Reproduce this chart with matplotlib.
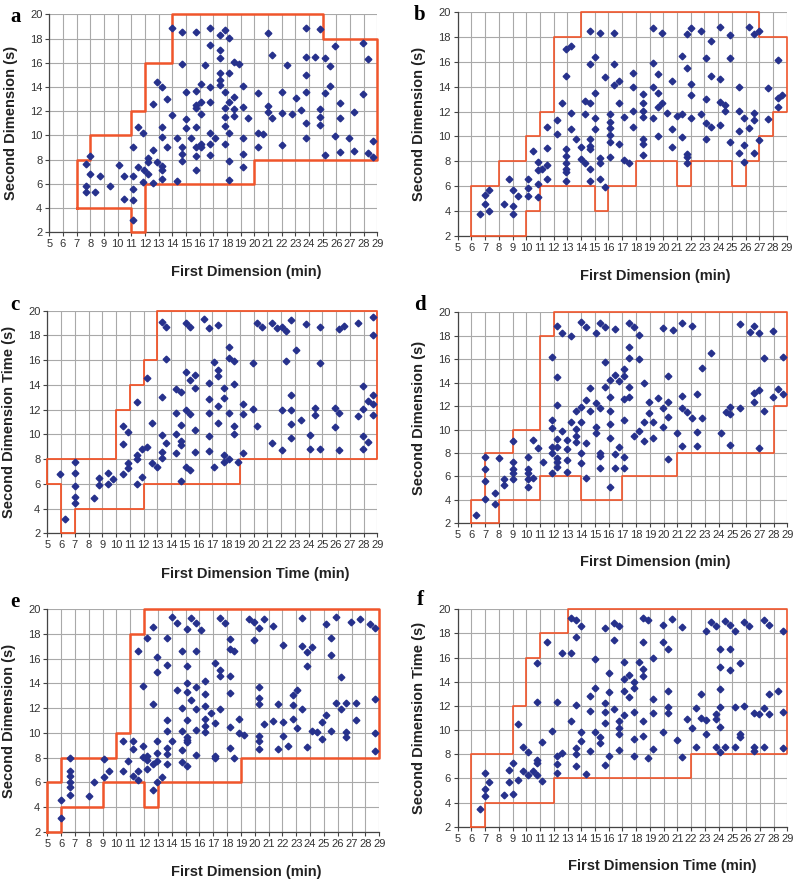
import numpy as np
import matplotlib
matplotlib.use('Agg')
import matplotlib.pyplot as plt

plt.rcParams['font.family'] = ['Liberation Sans', 'DejaVu Sans']

# ---- data: (first dimension min, second dimension s) ----
pts_a = [(13.95, 18.87), (14.68, 18.57), (14.68, 15.90), (12.90, 14.44), (13.27, 14.02), (12.59, 12.62),
         (13.61, 12.98), (14.00, 11.68), (15.02, 11.35), (15.02, 13.55), (11.51, 10.72), (11.88, 10.22),
         (13.27, 10.69), (13.27, 9.89), (11.15, 9.06), (13.63, 9.06), (14.34, 9.83), (14.68, 9.06),
         (15.37, 9.83), (15.02, 10.61), (14.68, 8.46), (14.68, 7.91), (12.59, 8.76), (12.20, 8.15),
         (12.24, 7.77), (12.90, 7.82), (13.27, 7.47), (13.27, 7.14), (13.27, 6.39), (12.59, 6.09),
         (11.90, 7.14), (11.88, 6.17), (12.24, 6.80), (11.51, 7.41), (11.15, 6.61), (11.15, 5.59),
         (11.15, 4.66), (11.15, 3.00), (10.46, 4.79), (10.46, 6.61), (10.10, 7.58), (9.41, 5.81),
         (8.73, 6.64), (8.00, 6.78), (7.66, 7.63), (7.66, 5.79), (7.66, 5.37), (8.37, 5.32),
         (7.98, 8.32), (14.34, 6.20),
         (15.73, 18.51), (16.76, 18.87), (17.49, 18.32), (17.83, 18.73), (18.17, 18.07), (16.76, 17.49),
         (17.49, 17.05), (17.49, 16.36), (16.41, 15.81), (18.51, 16.09), (18.88, 15.87), (18.17, 15.12),
         (17.49, 15.18), (17.49, 14.57), (17.49, 14.16), (16.07, 14.24), (16.76, 14.02), (15.73, 13.69),
         (17.83, 13.58), (19.20, 14.08), (18.51, 13.20), (18.17, 12.73), (16.76, 12.75), (16.07, 12.78),
         (15.73, 12.53), (15.73, 12.23), (16.07, 11.76), (17.83, 12.23), (18.51, 12.18), (19.20, 12.37),
         (17.83, 11.49), (18.51, 11.60), (19.56, 11.46), (17.83, 10.80), (15.73, 10.66), (16.76, 10.22),
         (18.17, 10.19), (17.15, 9.75), (19.20, 9.81), (15.73, 9.06), (16.07, 9.28), (16.07, 9.01),
         (16.76, 9.28), (17.83, 9.28), (15.73, 8.29), (16.76, 8.37), (19.20, 8.46), (18.17, 7.91),
         (19.20, 7.36), (15.73, 7.14), (18.17, 6.31), (20.27, 13.50), (20.98, 18.48), (21.32, 16.64),
         (22.37, 15.79), (22.02, 13.55), (20.98, 12.42), (20.98, 11.96), (21.32, 11.46), (22.02, 11.87),
         (22.73, 11.76), (23.05, 13.06), (23.41, 12.09), (20.27, 10.22), (20.61, 10.11), (20.27, 9.01),
         (22.02, 9.20), (23.78, 18.90), (24.80, 18.79), (23.78, 16.50), (24.46, 16.47), (25.17, 16.39),
         (25.51, 15.73), (23.78, 15.01), (23.78, 13.55), (25.17, 13.50), (25.51, 14.08), (24.80, 12.15),
         (24.80, 11.54), (24.80, 10.85), (23.78, 10.99), (23.78, 9.75), (25.17, 8.37), (25.88, 17.38),
         (26.24, 12.64), (26.24, 11.43), (25.88, 9.97), (26.24, 8.62), (26.90, 9.78), (27.27, 11.96),
         (27.27, 8.70), (27.98, 17.60), (28.34, 16.28), (27.98, 13.44), (28.34, 8.59), (28.66, 9.56),
         (28.66, 8.18)]

pts_b = [(6.63, 3.74), (6.97, 5.27), (6.97, 4.52), (7.31, 5.65), (7.31, 3.98), (8.38, 4.52), (8.72, 6.59),
         (9.06, 5.65), (9.06, 4.38), (9.06, 3.74), (9.43, 5.22), (10.13, 6.59), (10.13, 5.81), (10.13, 5.22),
         (10.47, 8.84), (10.84, 7.96), (10.84, 7.28), (10.84, 6.15), (10.84, 5.08), (11.18, 7.37),
         (11.52, 10.73), (11.52, 9.06), (11.52, 7.72), (11.52, 6.59), (12.23, 11.30), (12.23, 10.19),
         (12.59, 12.66), (12.93, 17.02), (13.30, 17.31), (12.93, 14.87), (13.30, 11.85), (13.30, 10.62),
         (13.64, 9.78), (12.93, 8.98), (12.93, 8.44), (12.93, 7.88), (12.93, 7.37), (12.93, 7.10),
         (12.93, 6.40), (13.98, 9.17), (13.98, 8.20), (14.32, 12.88), (14.32, 11.80), (14.32, 7.82),
         (14.68, 18.49), (14.68, 15.83), (14.68, 12.72), (14.68, 9.81), (14.68, 9.25), (14.68, 8.95),
         (14.68, 7.37), (14.68, 6.40), (15.02, 13.52), (15.02, 16.37), (15.02, 11.45), (15.02, 10.62),
         (15.37, 18.31), (15.37, 8.23), (15.37, 7.82), (15.37, 6.56), (15.72, 14.76), (15.72, 5.94),
         (16.42, 18.31), (16.42, 15.81), (16.42, 14.14), (16.78, 14.49), (16.78, 12.72), (16.10, 11.80),
         (16.10, 11.18), (16.10, 10.65), (16.10, 10.11), (16.10, 9.57), (16.10, 8.31), (16.78, 9.38),
         (17.13, 11.53), (17.13, 8.09), (17.52, 7.82), (17.81, 15.08), (17.81, 14.01), (17.81, 12.07),
         (17.81, 10.73), (18.54, 13.39), (18.54, 12.66), (18.54, 12.07), (18.54, 11.53), (18.54, 9.76),
         (18.54, 9.38), (18.54, 8.49), (19.22, 18.76), (19.22, 15.94), (19.22, 14.01), (19.22, 11.45),
         (19.58, 15.03), (19.58, 13.47), (19.58, 12.34), (19.58, 10.03), (19.92, 18.36), (19.92, 12.72),
         (20.29, 11.91), (20.61, 14.49), (20.61, 10.59), (20.61, 9.17), (21.02, 11.67), (21.34, 11.80),
         (21.34, 16.48), (21.34, 9.97), (21.70, 18.23), (21.70, 15.48), (21.70, 8.58), (21.70, 8.31),
         (21.70, 7.82), (22.04, 18.74), (22.04, 14.22), (22.04, 13.33), (22.04, 11.51), (22.75, 18.49),
         (22.75, 11.80), (23.09, 16.34), (23.09, 12.98), (23.09, 11.05), (23.09, 9.76), (23.45, 17.72),
         (23.45, 14.89), (23.45, 10.78), (24.16, 18.82), (24.16, 14.60), (24.16, 12.74), (24.16, 10.91),
         (24.50, 12.53), (24.50, 12.04), (24.86, 18.17), (24.86, 16.32), (24.86, 9.57), (25.55, 14.01),
         (25.55, 12.04), (25.55, 10.43), (25.55, 8.63), (25.89, 11.51), (25.89, 9.27), (25.89, 7.93),
         (26.25, 18.79), (26.25, 10.70), (26.59, 18.23), (26.59, 11.91), (26.59, 11.32), (26.59, 8.63),
         (26.96, 18.49), (26.96, 9.70), (27.66, 13.87), (27.66, 11.40), (28.34, 16.13), (28.34, 13.12),
         (28.34, 12.39), (28.68, 13.33)]

pts_c = [(5.92, 6.77), (6.28, 3.15), (6.99, 7.74), (6.99, 6.85), (6.99, 5.85), (6.99, 4.91), (6.99, 4.42),
         (8.39, 4.85), (8.73, 6.44), (8.73, 5.88), (9.44, 6.85), (9.44, 5.98), (9.80, 6.42), (10.48, 6.82),
         (10.48, 9.25), (10.48, 10.70), (10.84, 10.22), (10.84, 7.65), (10.84, 7.30), (11.55, 12.59),
         (11.55, 8.33), (11.55, 7.98), (11.55, 5.98), (11.91, 8.81), (11.91, 6.58), (12.25, 9.00),
         (12.25, 14.56), (12.59, 10.94), (12.59, 7.65), (12.95, 7.33), (13.32, 19.06), (13.65, 18.71),
         (13.65, 16.06), (13.32, 13.05), (13.32, 9.95), (13.32, 8.60), (13.32, 8.11), (13.65, 9.27),
         (14.36, 13.67), (14.36, 11.70), (14.36, 10.03), (14.36, 8.46), (14.70, 13.42), (14.70, 10.75),
         (14.70, 9.49), (14.70, 9.14), (14.70, 6.23), (15.06, 19.03), (15.06, 15.04), (15.06, 11.97),
         (15.06, 7.39), (15.40, 18.65), (15.40, 14.39), (15.40, 11.62), (15.40, 7.12),
         (15.74, 14.80), (15.74, 13.72), (15.74, 10.35), (15.74, 8.54), (16.43, 19.33), (16.77, 18.60),
         (17.45, 18.87), (16.77, 12.83), (16.77, 14.12), (16.77, 11.70), (16.77, 9.87), (16.77, 8.68),
         (17.13, 15.82), (17.13, 7.33), (17.45, 15.20), (17.45, 14.72), (17.45, 12.29), (17.45, 10.94),
         (17.84, 13.77), (17.84, 12.91), (17.84, 8.30), (17.84, 7.79), (18.18, 17.09), (18.18, 16.20),
         (18.18, 11.70), (18.18, 7.98), (18.55, 15.90), (18.55, 14.04), (18.55, 10.67), (18.55, 10.03),
         (18.89, 7.76), (19.25, 12.45), (19.25, 11.64), (19.25, 8.52), (19.93, 15.74), (19.93, 12.08),
         (20.27, 19.03), (20.27, 10.65), (20.62, 18.65), (21.35, 18.98), (21.35, 9.33), (21.69, 18.57),
         (22.05, 18.65), (22.05, 11.97), (22.05, 8.73), (22.39, 18.33), (22.39, 15.93), (22.73, 19.25),
         (22.73, 13.18), (22.73, 11.97), (22.73, 10.81), (22.73, 9.68), (23.10, 16.82), (23.44, 11.19),
         (23.78, 18.95), (24.14, 9.95), (24.14, 8.79), (24.48, 12.13), (24.48, 11.54), (24.82, 18.68),
         (24.82, 15.74), (24.82, 8.79), (25.89, 12.16), (25.89, 10.57), (26.22, 18.49), (26.22, 11.70),
         (26.22, 8.73), (26.59, 18.76), (27.63, 18.98), (27.63, 11.48), (27.98, 13.91), (27.98, 12.05),
         (27.98, 9.87), (27.98, 8.79), (28.32, 9.35), (28.35, 12.72), (28.68, 19.51), (28.68, 18.03),
         (28.68, 13.18), (28.68, 12.45), (28.68, 11.54)]

pts_d = [(6.31, 2.68), (7.01, 7.69), (7.01, 6.64), (7.01, 5.64), (7.01, 4.08), (7.69, 4.56), (7.69, 3.62),
         (8.03, 7.55), (8.40, 5.76), (8.40, 5.27), (9.05, 9.05), (9.05, 7.26), (9.05, 6.61), (9.05, 6.27),
         (9.05, 5.78), (10.12, 7.69), (10.12, 6.61), (10.12, 6.32), (10.12, 5.78), (10.12, 5.13),
         (10.46, 5.84), (10.51, 9.11), (10.83, 8.46), (11.19, 7.20), (11.87, 16.22), (11.87, 10.82),
         (11.87, 10.16), (11.87, 8.54), (11.87, 7.97), (11.87, 6.32), (12.21, 18.83), (12.21, 14.46),
         (12.21, 12.10), (12.21, 9.17), (12.21, 8.54), (12.21, 7.55), (12.21, 7.20), (12.21, 6.78),
         (12.60, 18.27), (12.60, 9.88), (12.94, 9.11), (12.94, 8.34), (12.94, 7.40), (12.94, 6.35),
         (13.28, 10.67), (13.28, 17.98), (13.62, 11.61), (13.62, 10.02), (13.62, 9.45), (13.62, 8.97),
         (13.96, 19.20), (13.96, 11.95), (13.96, 10.62), (13.96, 7.97), (13.96, 7.12), (14.32, 18.72),
         (14.32, 12.52), (14.32, 8.83), (14.32, 5.90), (14.66, 13.52), (14.66, 11.58), (15.05, 18.21),
         (15.05, 12.24), (15.05, 10.25), (15.05, 9.68), (15.39, 19.06), (15.39, 11.81), (15.39, 8.03),
         (15.39, 7.77), (15.39, 6.69), (15.72, 18.78), (15.72, 15.79), (15.72, 13.60), (16.09, 14.23),
         (16.09, 12.75), (16.09, 11.58), (16.09, 10.45), (16.09, 9.31), (16.09, 5.13), (16.43, 18.55),
         (16.43, 14.65), (16.43, 7.92), (16.43, 6.75), (16.77, 14.17), (16.77, 8.54), (17.11, 15.17),
         (17.11, 14.60), (17.11, 12.58), (17.11, 10.82), (17.11, 7.63), (17.11, 6.69), (17.50, 19.06),
         (17.50, 17.01), (17.50, 16.13), (17.50, 13.60), (17.50, 12.75), (17.83, 18.72), (17.83, 9.45),
         (18.20, 18.07), (18.20, 15.99), (18.20, 9.88), (18.54, 14.00), (18.54, 10.62), (18.54, 9.05),
         (18.90, 12.32), (18.90, 11.44), (19.24, 10.62), (19.24, 9.25), (19.60, 12.66), (19.95, 18.64),
         (19.95, 11.87), (19.95, 10.25), (20.29, 14.57), (20.29, 12.32), (20.29, 11.04), (20.29, 7.46),
         (20.65, 18.49), (21.00, 9.74), (21.35, 19.06), (21.35, 12.89), (21.35, 11.87), (21.35, 8.63),
         (21.69, 11.53), (22.06, 18.86), (22.06, 10.96), (22.40, 13.03), (22.40, 9.82), (22.40, 8.63),
         (22.76, 15.22), (22.76, 10.96), (23.44, 16.56), (24.15, 9.74), (24.51, 11.53), (24.83, 11.95),
         (24.83, 11.33), (24.83, 8.68), (25.55, 11.81), (25.55, 18.98), (26.26, 18.35), (26.60, 18.83),
         (26.60, 13.09), (26.60, 12.38), (26.96, 18.27), (26.96, 13.38), (26.96, 8.40), (27.28, 16.08),
         (27.28, 11.58), (27.98, 18.44), (27.98, 12.75), (28.34, 13.43), (28.71, 16.16), (28.71, 13.03)]

pts_e = [(5.99, 4.57), (5.99, 3.08), (6.64, 7.94), (6.64, 6.94), (6.64, 6.51), (6.64, 6.05), (6.64, 5.59),
         (6.64, 4.97), (8.04, 4.89), (8.40, 6.00), (9.10, 7.86), (9.10, 6.45), (9.46, 6.91), (10.49, 9.37),
         (10.49, 6.91), (10.86, 7.75), (11.22, 9.37), (11.22, 8.67), (11.22, 6.51), (11.55, 16.63),
         (11.55, 6.91), (11.55, 6.18), (11.89, 13.79), (11.89, 8.96), (11.89, 8.07), (12.23, 17.71),
         (12.23, 8.15), (12.23, 7.80), (12.23, 7.05), (12.61, 18.54), (12.61, 12.34), (12.61, 7.45),
         (12.61, 5.38), (12.95, 16.17), (12.95, 14.90), (12.95, 9.37), (12.95, 8.40), (12.95, 7.72),
         (12.95, 6.05), (13.31, 6.45), (13.67, 17.65), (13.67, 15.49), (13.67, 11.04), (13.67, 10.18),
         (13.67, 8.80), (13.67, 8.29), (13.67, 7.48), (14.04, 19.41), (14.04, 9.34), (14.35, 18.92),
         (14.35, 13.47), (14.71, 16.63), (14.71, 11.99), (14.71, 10.15), (14.71, 8.61), (14.71, 7.67),
         (15.07, 18.38), (15.07, 15.41), (15.07, 14.06), (15.07, 13.28), (15.07, 11.04), (15.07, 9.69),
         (15.07, 9.42), (15.07, 9.23), (15.07, 7.34), (15.41, 19.27), (15.41, 12.66), (15.75, 18.92),
         (15.75, 16.63), (15.75, 13.74), (15.75, 11.90), (15.75, 10.23), (15.75, 8.21),
         (16.08, 18.33), (16.42, 14.20), (16.42, 13.15), (16.42, 12.20), (16.42, 11.10), (16.42, 10.58),
         (16.42, 10.04), (16.81, 11.64), (17.14, 15.63), (17.14, 10.77), (17.14, 8.15), (17.14, 7.94),
         (17.50, 19.33), (17.50, 15.09), (17.50, 14.63), (17.50, 11.90), (17.86, 18.87), (18.20, 17.60),
         (18.20, 16.76), (18.20, 14.63), (18.20, 13.20), (18.20, 10.50), (18.20, 8.80), (18.53, 16.65),
         (18.53, 7.99), (18.88, 11.10), (18.88, 9.96), (19.24, 9.83), (19.58, 19.19), (19.94, 19.00),
         (19.94, 17.52), (20.30, 18.46), (20.30, 13.74), (20.30, 12.80), (20.30, 12.31), (20.30, 9.77),
         (20.30, 9.37), (20.30, 8.67), (20.66, 19.22), (20.66, 10.69), (21.34, 18.68), (21.34, 10.96),
         (21.70, 12.31), (21.70, 8.67), (22.04, 17.11), (22.04, 10.91), (22.04, 9.77), (22.37, 8.96),
         (22.73, 13.07), (22.73, 12.26), (22.73, 11.12), (23.07, 13.47), (23.07, 10.37), (23.43, 19.33),
         (23.43, 17.06), (23.43, 11.90), (23.77, 16.57), (23.77, 15.41), (23.77, 8.83), (24.13, 16.92),
         (24.13, 10.18), (24.49, 10.10), (24.83, 10.91), (24.83, 9.50), (25.17, 18.79), (25.17, 11.45),
         (25.53, 17.65), (25.53, 16.30), (25.53, 10.15), (25.87, 19.41), (25.87, 12.44), (26.23, 14.55),
         (26.23, 11.90), (26.57, 12.44), (26.57, 10.04), (26.57, 9.69), (26.93, 19.00), (27.29, 12.44),
         (27.29, 11.04), (27.63, 19.19), (28.33, 18.79), (28.69, 18.46), (28.69, 12.71), (28.69, 9.96),
         (28.69, 8.53)]

pts_f = [(6.63, 3.43), (6.97, 6.47), (6.97, 5.12), (6.97, 4.57), (7.31, 5.67), (8.37, 4.62), (8.71, 6.69),
         (8.71, 5.67), (9.05, 7.30), (9.05, 4.68), (9.42, 10.50), (9.42, 5.86), (9.76, 8.57), (9.76, 6.64),
         (10.12, 8.16), (10.12, 6.28), (10.46, 6.64), (10.80, 15.53), (10.80, 12.35), (10.80, 7.52),
         (10.80, 7.24), (10.80, 6.28), (11.17, 9.01), (11.17, 5.81), (11.50, 17.27), (11.87, 9.95),
         (12.21, 12.35), (12.21, 7.85), (12.21, 7.16), (12.21, 6.47), (12.57, 8.07), (12.57, 16.41),
         (13.25, 19.28), (13.62, 19.12), (13.62, 17.68), (13.25, 16.41), (13.25, 10.75), (13.62, 12.08),
         (13.62, 8.49), (13.62, 8.02), (13.62, 7.05), (13.96, 18.65), (13.96, 9.81), (13.96, 9.12),
         (14.32, 6.33), (14.66, 12.85), (14.66, 11.61), (14.66, 8.29), (15.00, 15.86), (15.00, 13.51),
         (15.00, 9.87), (15.36, 9.40), (15.36, 8.96), (15.70, 18.43), (15.70, 12.21), (15.70, 11.47),
         (15.70, 10.61), (15.70, 7.11), (16.04, 14.75), (16.04, 13.13), (16.04, 7.88), (16.40, 18.90),
         (16.40, 17.46), (16.40, 11.74), (16.77, 18.65), (16.77, 10.75), (16.77, 10.14), (16.77, 9.67),
         (16.77, 8.35), (17.11, 15.67), (17.11, 14.20), (17.11, 13.26), (17.11, 11.25), (17.48, 14.56),
         (17.48, 12.77), (17.81, 13.95), (17.81, 13.46), (17.81, 11.52), (17.81, 9.26), (17.81, 7.85),
         (18.17, 15.61), (18.51, 19.25), (18.51, 17.32), (18.51, 15.03), (18.51, 14.51), (18.51, 10.75),
         (18.51, 9.51), (18.88, 19.12), (18.88, 7.66), (19.22, 15.94), (19.22, 12.57), (19.22, 11.44),
         (19.22, 8.40), (19.95, 18.70), (19.95, 17.32), (19.95, 9.81), (20.29, 16.69), (20.29, 13.24),
         (20.29, 11.94), (20.29, 11.39), (20.63, 19.17), (21.00, 9.18), (21.33, 18.56), (21.33, 7.80),
         (21.67, 10.89), (22.03, 10.20), (22.37, 11.80), (22.37, 8.57), (22.74, 12.99), (22.74, 11.03),
         (23.08, 18.23), (23.08, 10.83), (23.08, 9.67), (23.44, 18.92), (23.78, 18.65), (23.78, 11.33),
         (23.78, 10.89), (23.78, 8.63), (24.12, 16.69), (24.12, 15.25), (24.12, 13.37), (24.12, 11.94),
         (24.12, 10.28), (24.12, 8.21), (24.49, 19.06), (24.49, 8.57), (24.83, 18.70), (24.83, 16.69),
         (24.83, 14.98), (25.17, 18.21), (25.17, 11.94), (25.17, 8.57), (25.53, 15.53), (25.53, 9.67),
         (25.53, 9.45), (25.87, 18.92), (25.87, 11.99), (26.23, 18.65), (26.57, 11.44), (26.57, 8.63),
         (26.57, 8.29), (26.94, 11.30), (27.28, 19.12), (27.28, 11.86), (27.28, 8.63), (27.64, 18.70),
         (27.64, 12.99), (27.64, 11.33), (28.34, 13.24), (28.68, 18.21), (28.68, 11.47), (28.68, 8.49)]

# red boundary polygons (vertices)
edge_a = [(7, 4), (7, 8), (8, 8), (8, 10), (11, 10), (11, 12), (12, 12), (12, 16), (14, 16), (14, 20),
          (25, 20), (25, 18), (29, 18), (29, 8), (20, 8), (20, 6), (12, 6), (12, 2), (11, 2), (11, 4), (7, 4)]
edge_b = [(6, 2), (6, 6), (8, 6), (8, 8), (10, 8), (10, 10), (11, 10), (11, 12), (12, 12), (12, 18),
          (14, 18), (14, 20), (27, 20), (27, 18), (29, 18), (29, 12), (28, 12), (28, 10), (27, 10),
          (27, 8), (26, 8), (26, 6), (25, 6), (25, 8), (22, 8), (22, 6), (21, 6), (21, 8), (18, 8),
          (18, 6), (16, 6), (16, 4), (15, 4), (15, 6), (11, 6), (11, 4), (10, 4), (10, 2), (6, 2)]
edge_c = [(5, 6), (6, 6), (6, 2), (7, 2), (7, 4), (12, 4), (12, 6), (19, 6), (19, 8), (29, 8), (29, 20),
          (13, 20), (13, 16), (12, 16), (12, 14), (11, 14), (11, 12), (10, 12), (10, 8), (5, 8), (5, 6)]
edge_d = [(6, 2), (6, 4), (7, 4), (7, 8), (9, 8), (9, 10), (11, 10), (11, 18), (12, 18), (12, 20),
          (29, 20), (29, 12), (28, 12), (28, 8), (21, 8), (21, 6), (17, 6), (17, 4), (14, 4), (14, 6),
          (11, 6), (11, 4), (8, 4), (8, 2), (6, 2)]
edge_e = [(5, 2), (5, 6), (6, 6), (6, 8), (10, 8), (10, 10), (11, 10), (11, 18), (12, 18), (12, 20),
          (29, 20), (29, 8), (19, 8), (19, 6), (13, 6), (13, 4), (12, 4), (12, 6), (9, 6), (9, 4),
          (6, 4), (6, 2), (5, 2)]
edge_f = [(6, 2), (6, 8), (9, 8), (9, 12), (10, 12), (10, 16), (11, 16), (11, 18), (13, 18), (13, 20),
          (29, 20), (29, 8), (22, 8), (22, 6), (12, 6), (12, 4), (7, 4), (7, 2), (6, 2)]

letters = ['a', 'b', 'c', 'd', 'e', 'f']
xlabels = ['First Dimension (min)', 'First Dimension (min)', 'First Dimension Time (min)',
           'First Dimension (min)', 'First Dimension (min)', 'First Dimension Time (min)']
ylabels = ['Second Dimension (s)', 'Second Dimension (s)', 'Second Dimension Time (s)',
           'Second Dimension (s)', 'Second Dimension (s)', 'Second Dimension Time (s)']
x_ticks = list(range(5, 30))
y_ticks = list(range(2, 21, 2))

# layout (figure fractions)
rects = [[0.0616, 0.7363, 0.410, 0.2474], [0.5721, 0.7325, 0.4113, 0.2536],
         [0.0591, 0.3946, 0.4125, 0.2527], [0.5721, 0.4060, 0.4120, 0.2395],
         [0.0591, 0.0560, 0.4150, 0.2524], [0.5721, 0.0616, 0.4120, 0.2468]]
letter_pos = [(0.019, 0.981), (0.525, 0.983), (0.019, 0.654), (0.525, 0.654), (0.019, 0.317), (0.525, 0.319)]
xlabel_x = [0.60, 0.60, 0.63, 0.60, 0.60, 0.62]
line_w = [1.8, 1.2, 1.3, 1.2, 1.8, 1.2]

all_pts = [pts_a, pts_b, pts_c, pts_d, pts_e, pts_f]
all_edges = [edge_a, edge_b, edge_c, edge_d, edge_e, edge_f]

fig = plt.figure(figsize=(8, 8.81), dpi=100)

for i in range(6):
    ax = fig.add_axes(rects[i])
    pts = np.array(all_pts[i])
    edge = np.array(all_edges[i])

    ax.set_xlim(5, 29)
    ax.set_ylim(2, 20)
    ax.set_xticks(x_ticks)
    ax.set_yticks(y_ticks)
    ax.grid(True, color='#a9a9a9', lw=0.8)
    ax.set_axisbelow(True)
    for s in ['top', 'right']:
        ax.spines[s].set_visible(False)
    for s in ['left', 'bottom']:
        ax.spines[s].set_color('#444444')
        ax.spines[s].set_linewidth(0.9)
    ax.tick_params(labelsize=8, length=3, color='#444444', labelcolor='#333333', pad=2)

    ax.plot(edge[:, 0], edge[:, 1], color='#f0552b', lw=line_w[i], clip_on=False, zorder=3)
    ax.plot(pts[:, 0], pts[:, 1], 'D', color='#26318c', ms=3.4, ls='none', zorder=4, clip_on=False)

    ax.set_xlabel(xlabels[i], fontsize=10.5, fontweight='bold', color='#222222')
    ax.set_ylabel(ylabels[i], fontsize=10.5, fontweight='bold', color='#222222')
    ax.xaxis.set_label_coords(xlabel_x[i], -0.15)
    ax.yaxis.set_label_coords(-0.095, 0.5)

    fig.text(letter_pos[i][0], letter_pos[i][1], letters[i], fontsize=15, fontweight='bold',
             family='Liberation Serif', ha='center', va='center')

fig.savefig('out.png', dpi=100)
